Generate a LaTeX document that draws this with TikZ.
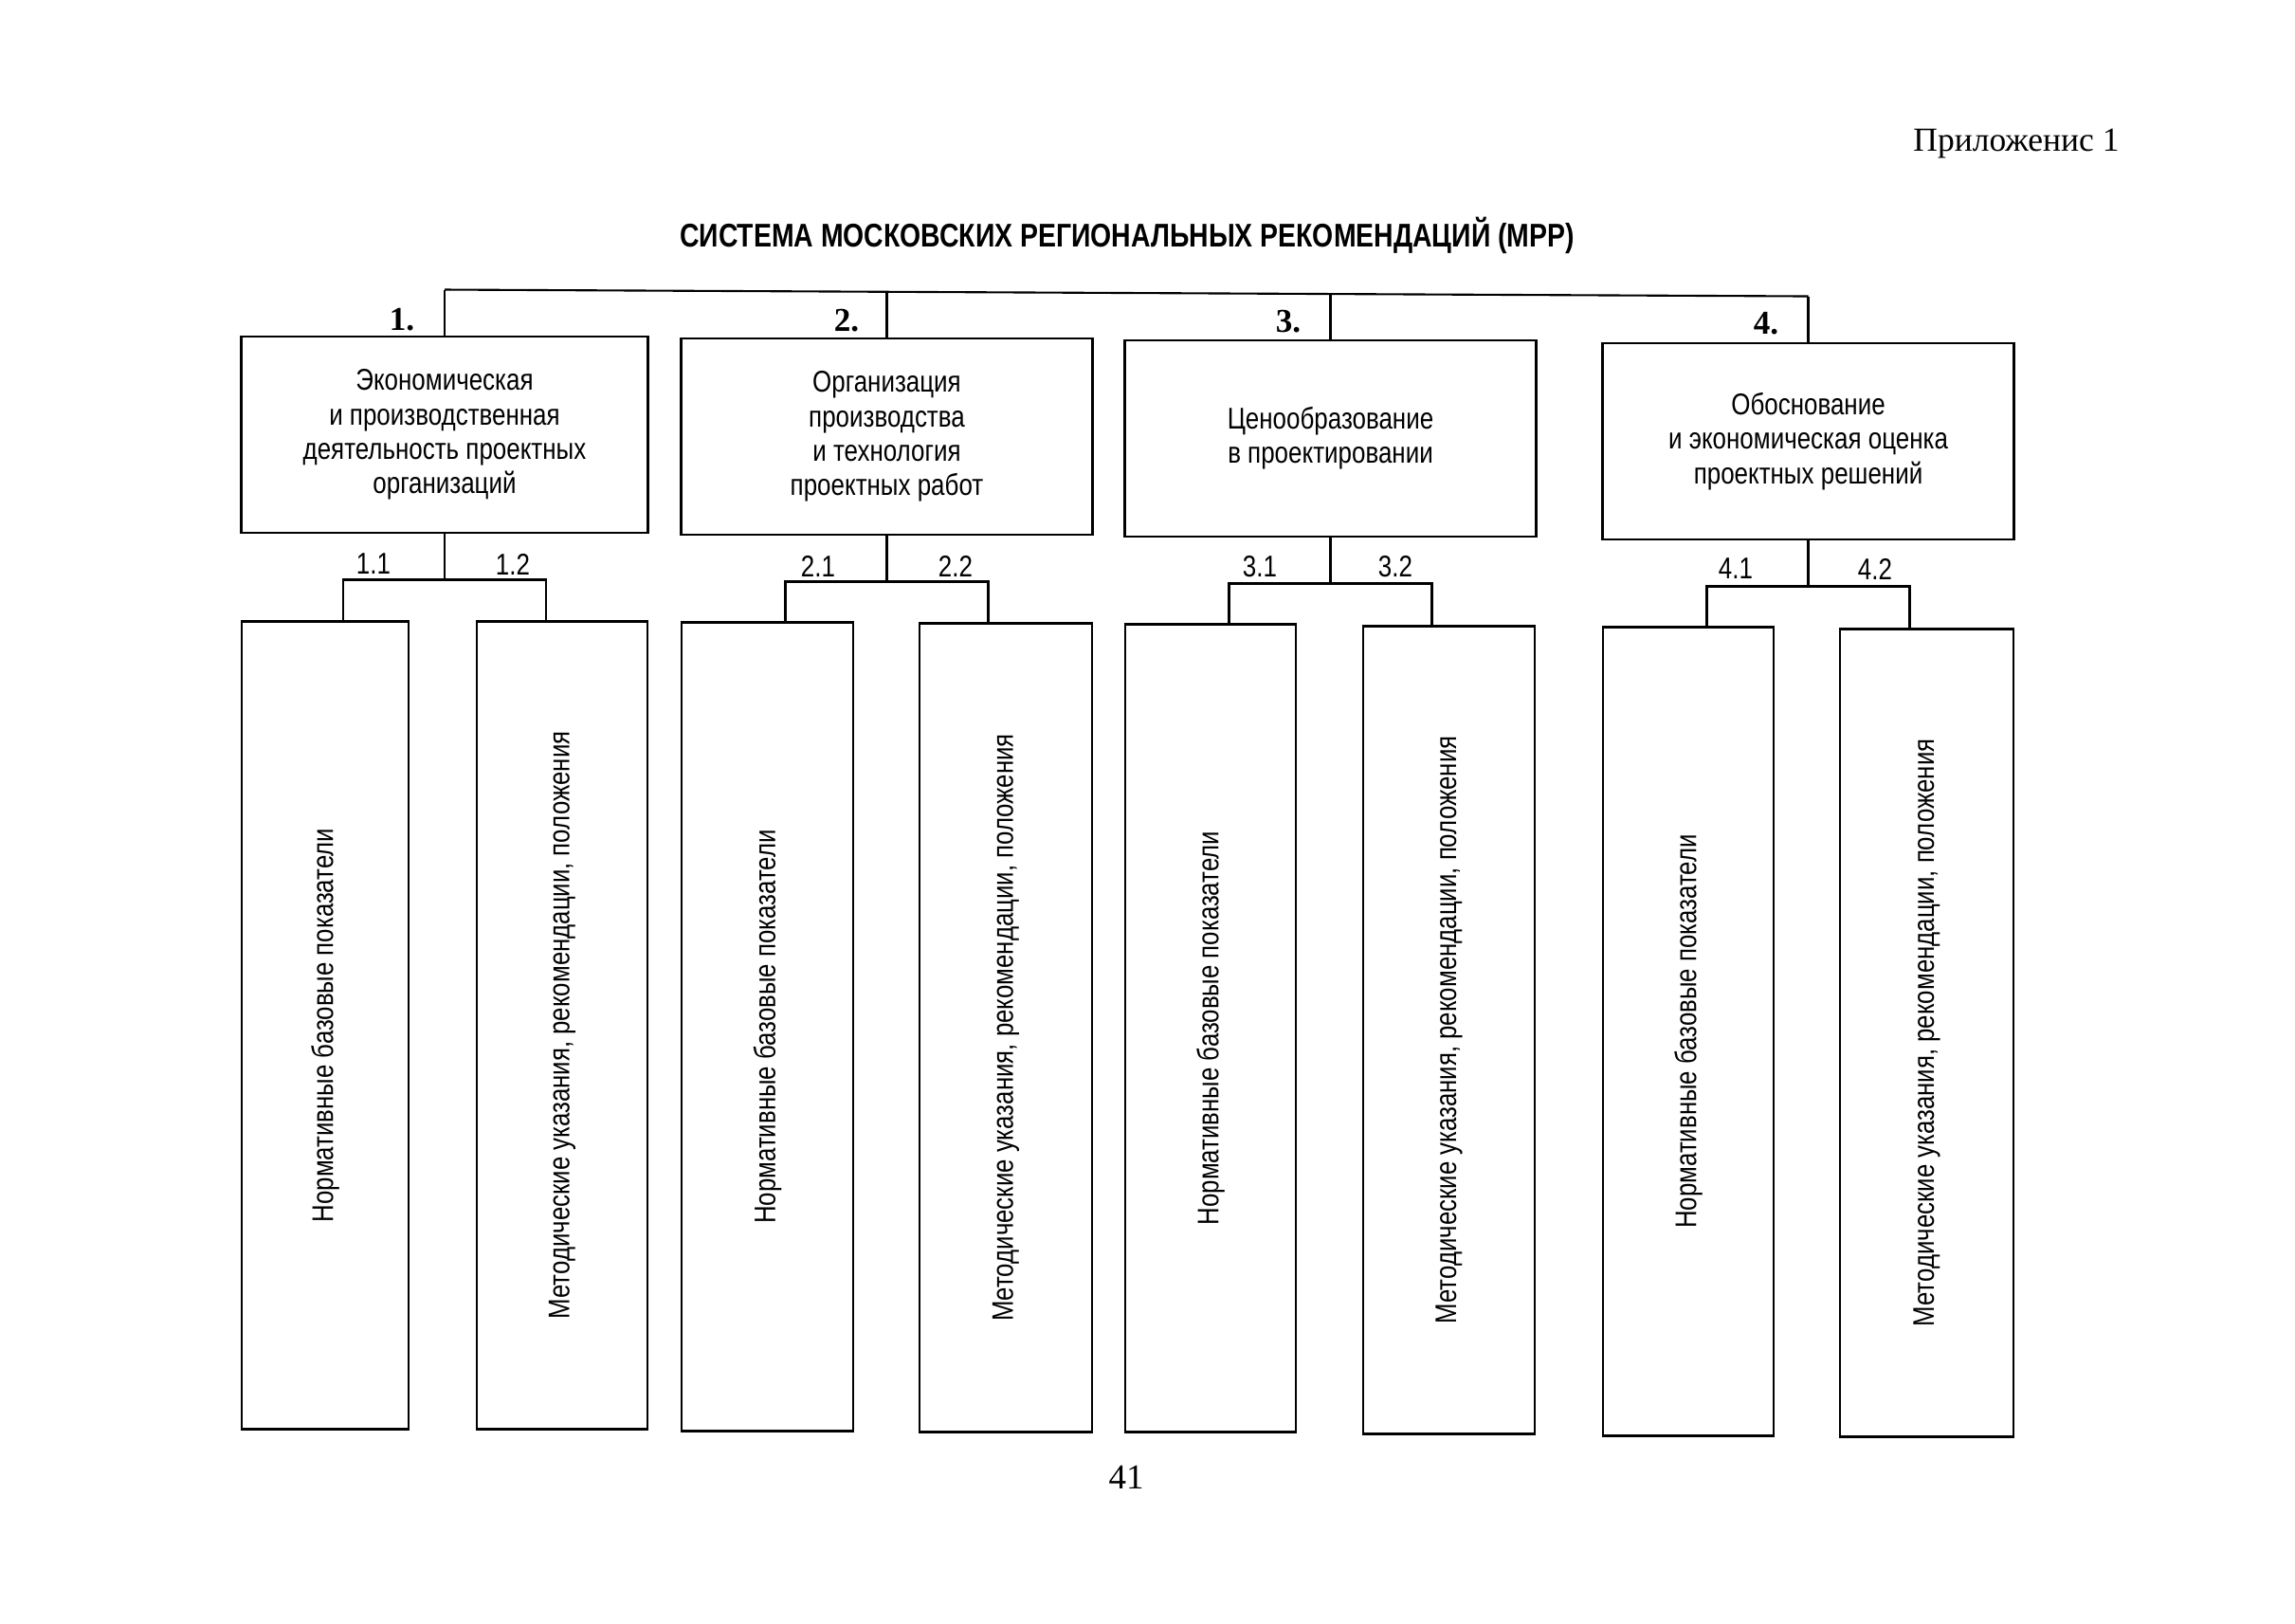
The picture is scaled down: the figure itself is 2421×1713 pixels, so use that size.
\documentclass[tikz,border=0pt]{standalone}
\usepackage{fontspec}
\setmainfont{Liberation Serif}
\newfontfamily\narrowfont[FakeStretch=0.82]{Liberation Sans}
\usetikzlibrary{calc}
\begin{document}
\begin{tikzpicture}[x=0.01cm,y=-0.01cm,
 box/.style={draw, line width=0.8pt, inner sep=0pt, align=center, minimum height=2.07cm, font=\narrowfont\fontsize{9}{10.3}\selectfont},
 leafbox/.style={draw, line width=0.8pt, inner sep=0pt, minimum height=8.52cm, font=\narrowfont\fontsize{8.95}{10.3}\selectfont},
 conn/.style={line width=0.6pt},
 numlbl/.style={font=\bfseries\fontsize{10}{12}\selectfont},
 sublbl/.style={font=\narrowfont\fontsize{9}{10}\selectfont}]
\useasboundingbox[fill=white] (0,0) rectangle (2421,1713);

\node[font=\fontsize{10.1}{12}\selectfont] (app) at (2127,152) {Приложенис 1};
\node[font=\narrowfont\bfseries\fontsize{9.85}{12}\selectfont] (title) at (1189,248) {СИСТЕМА МОСКОВСКИХ РЕГИОНАЛЬНЫХ РЕКОМЕНДАЦИЙ (МРР)};
\node[font=\fontsize{10.5}{12}\selectfont] (page) at (1188,1558) {41};

\node[box, minimum width=4.28cm] (b1) at (469,458.5) {Экономическая\\и производственная\\деятельность проектных\\организаций};
\node[box, minimum width=4.33cm] (b2) at (935.5,460.5) {Организация\\производства\\и технология\\проектных работ};
\node[box, minimum width=4.33cm] (b3) at (1403.5,462.5) {Ценообразование\\в проектировании};
\node[box, minimum width=4.33cm] (b4) at (1907.5,465.5) {Обоснование\\и экономическая оценка\\проектных решений};

\node[numlbl] (n1) at (424,337) {1.};
\node[numlbl] (n2) at (893,338) {2.};
\node[numlbl] (n3) at (1359,339) {3.};
\node[numlbl] (n4) at (1863,341) {4.};

\node[leafbox, minimum width=1.76cm] (l11) at (343,1081.5) {\rotatebox{90}{Нормативные базовые показатели}};
\node[leafbox, minimum width=1.80cm] (l12) at (593,1081.5) {\rotatebox{90}{Методические указания, рекомендации, положения}};
\node[leafbox, minimum width=1.81cm] (l21) at (809.5,1083) {\rotatebox{90}{Нормативные базовые показатели}};
\node[leafbox, minimum width=1.82cm] (l22) at (1061,1084) {\rotatebox{90}{Методические указания, рекомендации, положения}};
\node[leafbox, minimum width=1.80cm] (l31) at (1277,1084.5) {\rotatebox{90}{Нормативные базовые показатели}};
\node[leafbox, minimum width=1.81cm] (l32) at (1528.5,1086.5) {\rotatebox{90}{Методические указания, рекомендации, положения}};
\node[leafbox, minimum width=1.80cm] (l41) at (1781,1088) {\rotatebox{90}{Нормативные базовые показатели}};
\node[leafbox, minimum width=1.83cm] (l42) at (2032.5,1089.5) {\rotatebox{90}{Методические указания, рекомендации, положения}};

\node[sublbl] (s11) at (394,595) {1.1};
\node[sublbl] (s12) at (541,595) {1.2};
\node[sublbl] (s21) at (863,597) {2.1};
\node[sublbl] (s22) at (1008,597) {2.2};
\node[sublbl] (s31) at (1329,598) {3.1};
\node[sublbl] (s32) at (1472,598) {3.2};
\node[sublbl] (s41) at (1831,600) {4.1};
\node[sublbl] (s42) at (1978,600) {4.2};

% top bus
\draw[conn] (b1.north) -- ++(0,-48) coordinate (t1);
\draw[conn] (b4.north) -- ++(0,-48) coordinate (t4);
\draw[conn] (t1) -- (t4);
\draw[conn] (b2.north) -- ++(0,-48);
\draw[conn] (b3.north) -- ++(0,-48);

% sub trees
\foreach \b/\l/\r in {b1/l11/l12, b2/l21/l22, b3/l31/l32, b4/l41/l42}{
  \path (\b.south) ++(-107,48) coordinate (\b a) ++(214,0) coordinate (\b b);
  \draw[conn] (\b.south) -- ++(0,48);
  \draw[conn] (\l.north -| \b a) -- (\b a) -- (\b b) -- (\r.north -| \b b);
}
\end{tikzpicture}
\end{document}
